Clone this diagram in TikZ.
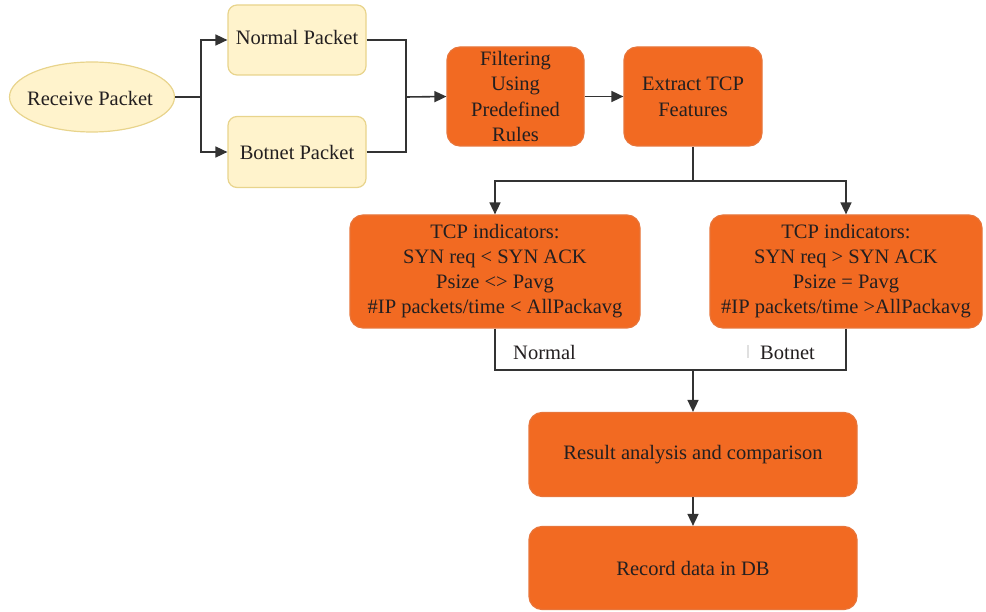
\documentclass[tikz,border=0pt]{standalone}
\usepackage{fontspec}
\setmainfont{Liberation Serif}
\usetikzlibrary{arrows.meta,shapes.geometric}
\definecolor{orng}{HTML}{F26A22}
\definecolor{orngb}{HTML}{E8753A}
\definecolor{ylw}{HTML}{FFF3CC}
\definecolor{ylwb}{HTML}{E8D48C}
\definecolor{txt}{HTML}{231F20}
\definecolor{ln}{HTML}{333333}
\tikzset{
  base/.style={text=txt, align=center, font=\fontsize{20.5}{25.5}\selectfont, inner sep=0pt},
  ybox/.style={base, draw=ylwb, fill=ylw, line width=1.2pt, rounded corners=9pt},
  obox/.style={base, draw=orngb, fill=orng, line width=1.2pt, rounded corners=13pt},
  yell/.style={base, ellipse, draw=ylwb, fill=ylw, line width=1.2pt},
  conn/.style={draw=ln, line width=1.6pt},
  arr/.style={conn, -{Triangle[length=12pt,width=11pt]}},
  lbl/.style={text=txt, font=\fontsize{20.5}{24}\selectfont, inner sep=0pt}
}
\begin{document}
\begin{tikzpicture}[x=1pt,y=-1pt]
\useasboundingbox (0,0) rectangle (986,612);
\node[yell, minimum width=165pt, minimum height=70pt] (recv) at (92,97) {};
\node[base] (recvt) at (90,98) {Receive Packet};
\node[ybox, minimum width=138pt, minimum height=70pt] (norm) at (297,40) {};
\node[base] (normt) at (297,37) {Normal Packet};
\node[ybox, minimum width=138pt, minimum height=71pt] (bot) at (297,152) {};
\node[base] (bott) at (297,152) {Botnet Packet};
\node[obox, minimum width=137pt, minimum height=99pt, font=\fontsize{20.5}{25.3}\selectfont] (filt) at (515.5,96.5) {Filtering\\Using\\Predefined\\Rules};
\node[obox, minimum width=138pt, minimum height=99pt, font=\fontsize{20.5}{26}\selectfont] (extr) at (693,96.5) {Extract TCP\\Features};
\node[obox, minimum width=290pt, minimum height=113pt, font=\fontsize{20.5}{25}\selectfont] (tcpn) at (495,271.5) {TCP indicators:\\SYN req {<} SYN ACK\\Psize {<}{>} Pavg\\\#IP packets/time {<} AllPackavg};
\node[obox, minimum width=272pt, minimum height=113pt, font=\fontsize{20.5}{25}\selectfont] (tcpb) at (846,271.5) {TCP indicators:\\SYN req {>} SYN ACK\\Psize = Pavg\\\#IP packets/time {>}AllPackavg};
\node[obox, minimum width=328pt, minimum height=84pt] (res) at (693,454.5) {Result analysis and comparison};
\node[obox, minimum width=328pt, minimum height=83pt] (rec) at (693,568) {Record data in DB};
\node[lbl, anchor=base west] (ln) at (513,360) {Normal};
\node[lbl, anchor=base west] (lb) at (760,360) {Botnet};
\draw[draw=black!12, line width=1.2pt] (748,345) -- (748,358);
% connectors
\coordinate (s1) at (201,97);
\draw[conn] (recv.east) -- (s1);
\draw[arr] (s1) |- (norm.west);
\draw[arr] (s1) |- (bot.west);
\coordinate (j1) at (406,97);
\draw[conn] (norm.east) -| (j1);
\draw[conn] (bot.east) -| (j1);
\draw[arr] (j1) -- (filt.west);
\draw[arr] (filt.east) -- (extr.west);
\coordinate (s2) at (693,181);
\draw[conn] (extr.south) -- (s2);
\draw[arr] (s2) -| (tcpn.north);
\draw[arr] (s2) -| (tcpb.north);
\coordinate (j2) at (693,370);
\draw[conn] (tcpn.south) |- (j2);
\draw[conn] (tcpb.south) |- (j2);
\draw[arr] (j2) -- (res.north);
\draw[arr] (res.south) -- (rec.north);
\end{tikzpicture}
\end{document}
